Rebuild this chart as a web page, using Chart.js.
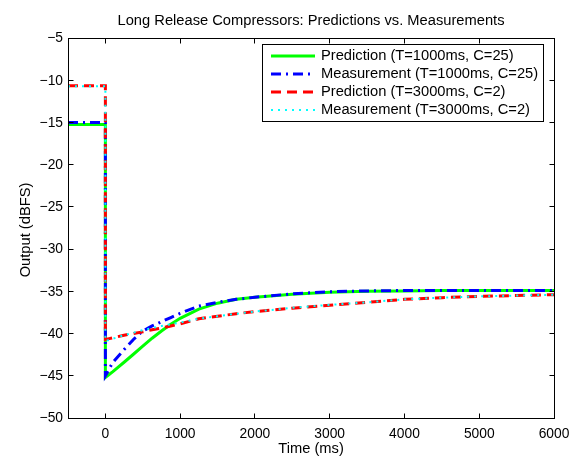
<!DOCTYPE html>
<html><head><meta charset="utf-8">
<script src="https://cdn.jsdelivr.net/npm/chart.js@4/dist/chart.umd.min.js"></script>
<style>html,body{margin:0;padding:0;background:#fff}#wrap{width:578px;height:456px}</style>
</head><body><div id="wrap"><canvas id="c" width="578" height="456"></canvas></div>
<script>
// ---- text ----
const titleText = 'Long Release Compressors: Predictions vs. Measurements';
const xAxisLabel = 'Time (ms)';
const yAxisLabel = 'Output (dBFS)';
const seriesNames = [
  'Prediction (T=1000ms, C=25)',
  'Measurement (T=1000ms, C=25)',
  'Prediction (T=3000ms, C=2)',
  'Measurement (T=3000ms, C=2)'
];
// ---- ticks ----
const xTicks = [0, 1000, 2000, 3000, 4000, 5000, 6000];
const yTicks = [-50, -45, -40, -35, -30, -25, -20, -15, -10, -5];
// ---- data ----
const preStepTime = -500;
const stepTime = 0;
const preStepLevel = [-15.25, -15.0, -10.65, -10.7];
const curveTime = [0, 50, 100, 250, 375, 500, 625, 750, 875, 1000, 1250, 1500, 1750, 2000, 2500, 3000, 3500, 4000, 4500, 5000, 5500, 6000];
const predFast = [-45.2, -44.85, -44.5, -43.4, -42.45, -41.5, -40.55, -39.7, -38.9, -38.2, -37.1, -36.4, -35.95, -35.7, -35.35, -35.1, -35.0, -34.95, -34.9, -34.9, -34.9, -34.9];
const measFast = [-45.0, -44.2, -43.4, -41.9, -40.7, -39.7, -39.1, -38.6, -38.1, -37.6, -36.75, -36.3, -35.95, -35.7, -35.3, -35.05, -34.95, -34.9, -34.9, -34.9, -34.9, -34.9];
const predSlow = [-40.7, -40.6, -40.5, -40.2, -40.0, -39.8, -39.55, -39.35, -39.1, -38.85, -38.25, -37.95, -37.65, -37.4, -37.0, -36.65, -36.3, -35.95, -35.75, -35.6, -35.5, -35.4];
const measSlow = [-40.9, -40.75, -40.6, -40.2, -39.9, -39.6, -39.35, -39.1, -38.9, -38.7, -38.25, -37.95, -37.65, -37.4, -36.95, -36.6, -36.3, -35.95, -35.75, -35.6, -35.5, -35.4];
const seriesValues = [predFast, measFast, predSlow, measSlow];

// ---- styles ----
const styles = [
  {color: '#00ff00', width: 3, dash: []},
  {color: '#0000ff', width: 3, dash: [10, 5, 2, 5]},
  {color: '#ff0000', width: 3, dash: [10, 6]},
  {color: '#00ffff', width: 2, dash: [2, 5]}
];

function buildData(i) {
  const pts = [{x: preStepTime, y: preStepLevel[i]}, {x: stepTime, y: preStepLevel[i]}];
  curveTime.forEach((t, k) => pts.push({x: t, y: seriesValues[i][k]}));
  return pts;
}

const datasets = seriesNames.map((name, i) => ({
  label: name,
  data: buildData(i),
  borderColor: styles[i].color,
  borderWidth: styles[i].width,
  borderDash: styles[i].dash,
  pointRadius: 0,
  tension: 0,
  fill: false,
  order: 4 - i
}));

const FONT = '"Liberation Sans", Arial, Helvetica, sans-serif';

const frame = {
  id: 'frame',
  beforeDraw(chart) {
    const ctx = chart.ctx;
    ctx.save();
    ctx.fillStyle = '#fff';
    ctx.fillRect(0, 0, chart.width, chart.height);
    ctx.restore();
  },
  afterDatasetsDraw(chart) {
    const {ctx, chartArea: a, scales: {x, y}} = chart;
    ctx.save();
    ctx.strokeStyle = '#000';
    ctx.lineWidth = 1;
    ctx.setLineDash([]);
    const L = Math.floor(a.left) + 0.5, R = Math.floor(a.right) + 0.5;
    const T = Math.floor(a.top) + 0.5, B = Math.floor(a.bottom) + 0.5;
    ctx.strokeRect(L, T, R - L, B - T);
    const tl = 5;
    ctx.beginPath();
    xTicks.forEach(v => {
      const px = Math.floor(x.getPixelForValue(v)) + 0.5;
      ctx.moveTo(px, B); ctx.lineTo(px, B - tl);
      ctx.moveTo(px, T); ctx.lineTo(px, T + tl);
    });
    yTicks.forEach(v => {
      const py = Math.floor(y.getPixelForValue(v)) + 0.5;
      ctx.moveTo(L, py); ctx.lineTo(L + tl, py);
      ctx.moveTo(R, py); ctx.lineTo(R - tl, py);
    });
    ctx.stroke();

    ctx.fillStyle = '#000';
    // x tick labels
    ctx.font = '13.8px ' + FONT;
    ctx.textAlign = 'center';
    ctx.textBaseline = 'alphabetic';
    xTicks.forEach(v => ctx.fillText(String(v), x.getPixelForValue(v), a.bottom + 19.5));
    // y tick labels
    ctx.textAlign = 'right';
    ctx.textBaseline = 'middle';
    yTicks.forEach(v => {
      const s = v < 0 ? '\u2212' + Math.abs(v) : String(v);
      ctx.fillText(s, a.left - 5, y.getPixelForValue(v) + 0.5);
    });
    // axis titles
    ctx.font = '14.7px ' + FONT;
    ctx.textAlign = 'center';
    ctx.textBaseline = 'alphabetic';
    ctx.fillText(xAxisLabel, (a.left + a.right) / 2, 453);
    ctx.save();
    ctx.translate(30, (a.top + a.bottom) / 2 + 2);
    ctx.rotate(-Math.PI / 2);
    ctx.fillText(yAxisLabel, 0, 0);
    ctx.restore();
    // title
    ctx.fillText(titleText, (a.left + a.right) / 2, 25);

    // legend
    const lx = 262, ly = 44, lw = 281, lh = 77;
    ctx.fillStyle = '#fff';
    ctx.fillRect(lx, ly, lw, lh);
    ctx.strokeStyle = '#000';
    ctx.strokeRect(lx + 0.5, ly + 0.5, lw, lh);
    ctx.font = '14.7px ' + FONT;
    ctx.textAlign = 'left';
    ctx.textBaseline = 'middle';
    seriesNames.forEach((name, i) => {
      const ry = 55.5 + i * 18.3;
      ctx.save();
      ctx.strokeStyle = styles[i].color;
      ctx.lineWidth = styles[i].width;
      ctx.setLineDash(styles[i].dash);
      ctx.beginPath();
      ctx.moveTo(271, Math.round(ry));
      ctx.lineTo(315, Math.round(ry));
      ctx.stroke();
      ctx.restore();
      ctx.fillStyle = '#000';
      ctx.fillText(name, 321, ry);
    });
    ctx.restore();
  }
};

new Chart(document.getElementById('c'), {
  type: 'line',
  data: {datasets},
  options: {
    responsive: false,
    animation: false,
    devicePixelRatio: 1,
    layout: {padding: {left: 68, right: 24, top: 38, bottom: 38}},
    scales: {
      x: {type: 'linear', min: -500, max: 6000, display: false},
      y: {type: 'linear', min: -50, max: -5, display: false}
    },
    plugins: {legend: {display: false}, title: {display: false}, tooltip: {enabled: false}}
  },
  plugins: [frame]
});
</script>
</body></html>
